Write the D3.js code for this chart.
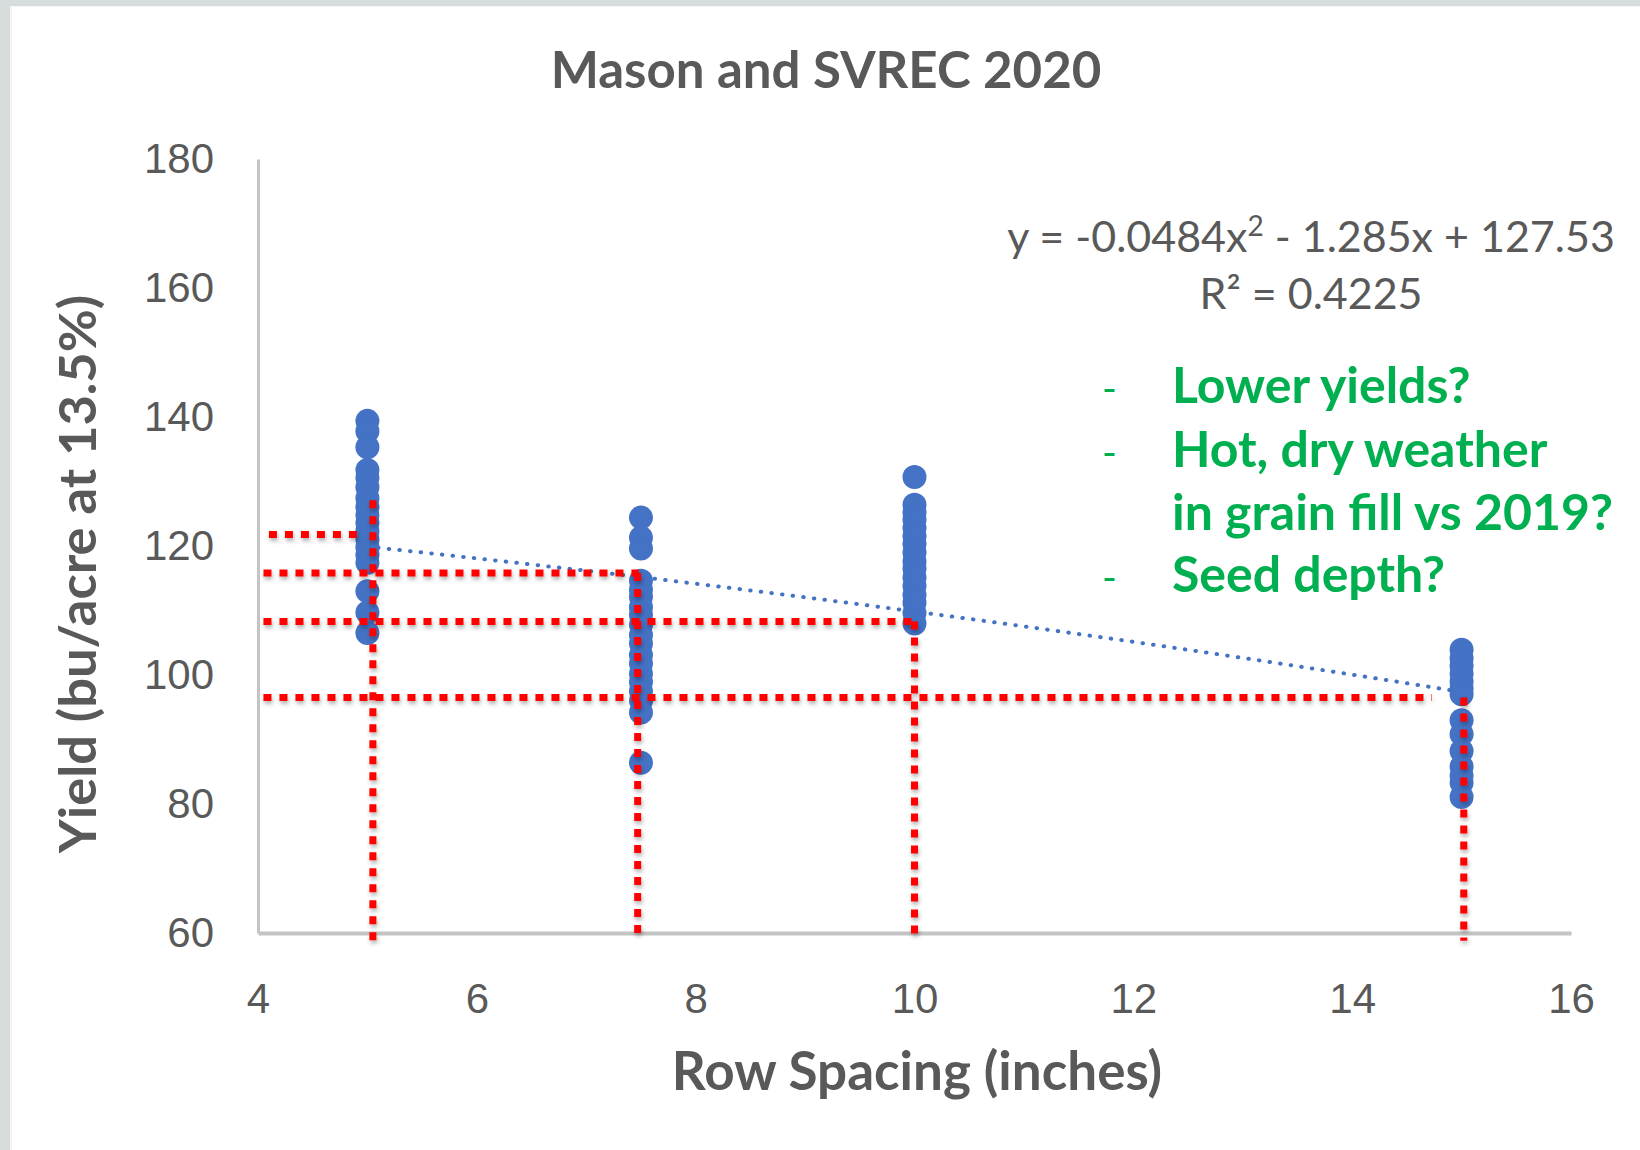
<!DOCTYPE html>
<html lang="en">
<head>
    <meta charset="UTF-8" />
    <title>Mason and SVREC 2020</title>
    <script src="https://d3js.org/d3.v7.min.js"></script>
    <style>
        body { margin: 0; background: #ffffff; }
        svg { display: block; font-family: Lato, "Open Sans", sans-serif; }
        .tick text { fill: #595959; font-size: 42px; }
    </style>
</head>
<body>
    <script>
        // row spacing (inches) and yields (bu/acre at 13.5%)
        const spacing = [5, 7.5, 10, 15];
        const yield5 = [139.4, 137.8, 135.3, 131.8, 130.6, 129.1, 127.4, 126.0, 124.8, 123.6, 122.3, 121.0, 119.8, 118.6, 117.4, 113.0, 109.7, 106.5];
        const yield75 = [124.4, 121.3, 119.6, 114.6, 113.2, 112.1, 110.5, 109.3, 107.8, 106.2, 104.9, 103.1, 101.8, 100.2, 98.9, 97.5, 96.0, 94.2, 86.4];
        const yield10 = [130.7, 126.4, 125.2, 124.1, 122.8, 121.5, 120.3, 119.0, 117.6, 116.5, 115.1, 113.8, 112.4, 111.2, 109.6, 108.0];
        const yield15 = [103.9, 102.6, 101.4, 100.2, 99.0, 97.9, 97.0, 93.0, 90.8, 88.2, 85.8, 84.4, 83.3, 81.1];

        // trendline coefficients (from the equation shown on the chart)
        const trendCoef = [-0.0484, -1.285, 127.53];
        const trendRange = [5, 15];

        // red guide lines drawn over the chart
        const guideY = [121.8, 115.8, 108.3, 96.5];       // horizontal line heights
        const guideXEnd = [4.94, 7.48, 10.0, 14.73];      // where each horizontal line stops
        const guideX = [5.05, 7.47, 10.0, 15.02];          // vertical line positions
        const guideYTop = [127.1, 115.8, 108.3, 96.5];     // where each vertical line starts

        const xTicks = [4, 6, 8, 10, 12, 14, 16];
        const yTicks = [60, 80, 100, 120, 140, 160, 180];

        const notes = ["Lower yields?", "Hot, dry weather", "in grain fill vs 2019?", "Seed depth?"];
        const noteDash = [true, true, false, true];

        const width = 1640;
        const height = 1150;

        const svg = d3.select("body")
            .append("svg")
            .attr("width", width)
            .attr("height", height);

        // grey frame at the top and left, like the slide screenshot
        svg.append("rect").attr("width", width).attr("height", height).attr("fill", "#d7dddc");
        svg.append("rect").attr("x", 10).attr("y", 6).attr("width", width - 10).attr("height", height - 6).attr("fill", "#f4f6f5");
        svg.append("rect").attr("x", 12).attr("y", 7).attr("width", width - 12).attr("height", height - 7).attr("fill", "#ffffff");

        // shadow for red guides
        const defs = svg.append("defs");
        defs.append("filter").attr("id", "shadow")
            .attr("x", "-50%").attr("y", "-50%").attr("width", "200%").attr("height", "200%")
            .append("feDropShadow")
            .attr("dx", 1).attr("dy", 3).attr("stdDeviation", 2)
            .attr("flood-color", "#000").attr("flood-opacity", 0.3);

        const x = d3.scaleLinear().domain([4, 16]).range([258, 1571]);
        const y = d3.scaleLinear().domain([60, 180]).range([933, 159]);

        // axes
        const yAxis = svg.append("g")
            .attr("transform", `translate(${x(4)},0)`)
            .call(d3.axisLeft(y).tickValues(yTicks).tickSize(0).tickPadding(44));
        yAxis.select(".domain").attr("stroke", "#c4c4c4").attr("stroke-width", 3);

        const xAxis = svg.append("g")
            .attr("transform", `translate(0,${y(60)})`)
            .call(d3.axisBottom(x).tickValues(xTicks).tickSize(0).tickPadding(50));
        xAxis.select(".domain").attr("stroke", "#c4c4c4").attr("stroke-width", 4);

        // trendline, dotted
        const trendX = d3.range(trendRange[0], trendRange[1] + 0.01, 0.1);
        const line = d3.line()
            .x(d => x(d))
            .y(d => y(trendCoef[0] * d * d + trendCoef[1] * d + trendCoef[2]));
        svg.append("path")
            .datum(trendX)
            .attr("d", line)
            .attr("fill", "none")
            .attr("stroke", "#4472c4")
            .attr("stroke-width", 4)
            .attr("stroke-linecap", "round")
            .attr("stroke-dasharray", "0.5 10.2");

        // points
        const series = [yield5, yield75, yield10, yield15];
        const points = [];
        series.forEach((vals, i) => vals.forEach(v => points.push({ x: spacing[i], y: v })));

        svg.append("g")
            .selectAll("circle")
            .data(points)
            .enter()
            .append("circle")
            .attr("cx", d => x(d.x))
            .attr("cy", d => y(d.y))
            .attr("r", 12)
            .attr("fill", "#4472c4");

        // red dotted guides
        const guides = svg.append("g")
            .attr("stroke", "#ff0000")
            .attr("stroke-width", 7)
            .attr("stroke-dasharray", "8 8")
            .attr("filter", "url(#shadow)");

        guides.selectAll("line.h")
            .data(guideY)
            .enter()
            .append("line")
            .attr("class", "h")
            .attr("x1", (d, i) => x(i === 0 ? 4.1 : 4.05))
            .attr("x2", (d, i) => x(guideXEnd[i]))
            .attr("y1", d => y(d))
            .attr("y2", d => y(d));

        guides.selectAll("line.v")
            .data(guideX)
            .enter()
            .append("line")
            .attr("class", "v")
            .attr("x1", d => x(d))
            .attr("x2", d => x(d))
            .attr("y1", (d, i) => y(guideYTop[i]))
            .attr("y2", y(58.8));

        // title
        svg.append("text")
            .attr("x", 826)
            .attr("y", 88)
            .attr("text-anchor", "middle")
            .attr("font-size", 51)
            .attr("font-weight", "bold")
            .attr("fill", "#595959")
            .text("Mason and SVREC 2020");

        // axis titles
        svg.append("text")
            .attr("x", 917)
            .attr("y", 1090)
            .attr("text-anchor", "middle")
            .attr("font-size", 53)
            .attr("font-weight", "bold")
            .attr("fill", "#595959")
            .text("Row Spacing (inches)");

        svg.append("text")
            .attr("transform", "translate(96,574) rotate(-90)")
            .attr("text-anchor", "middle")
            .attr("font-size", 52.5)
            .attr("font-weight", "bold")
            .attr("fill", "#595959")
            .text("Yield (bu/acre at 13.5%)");

        // trendline equation
        const eq = svg.append("text")
            .attr("x", 1311)
            .attr("y", 252)
            .attr("text-anchor", "middle")
            .attr("font-size", 43)
            .attr("fill", "#595959");
        eq.append("tspan").text("y = -0.0484x");
        eq.append("tspan").attr("font-size", 28).attr("dy", -16).text("2");
        eq.append("tspan").attr("dy", 16).text(" - 1.285x + 127.53");

        svg.append("text")
            .attr("x", 1311)
            .attr("y", 309)
            .attr("text-anchor", "middle")
            .attr("font-size", 43)
            .attr("fill", "#595959")
            .text("R² = 0.4225");

        // green notes
        const noteY = [403, 467, 530, 592];
        const noteG = svg.append("g").attr("fill", "#00b050");
        noteG.selectAll("text.note")
            .data(notes)
            .enter()
            .append("text")
            .attr("class", "note")
            .attr("x", 1172)
            .attr("y", (d, i) => noteY[i])
            .attr("font-size", 50)
            .attr("font-weight", "bold")
            .text(d => d);
        noteG.selectAll("text.dash")
            .data(notes.filter((d, i) => noteDash[i]))
            .enter()
            .append("text")
            .attr("class", "dash")
            .attr("x", 1102)
            .attr("y", (d) => noteY[notes.indexOf(d)])
            .attr("font-size", 40)
            .text("-");
    </script>
</body>
</html>
